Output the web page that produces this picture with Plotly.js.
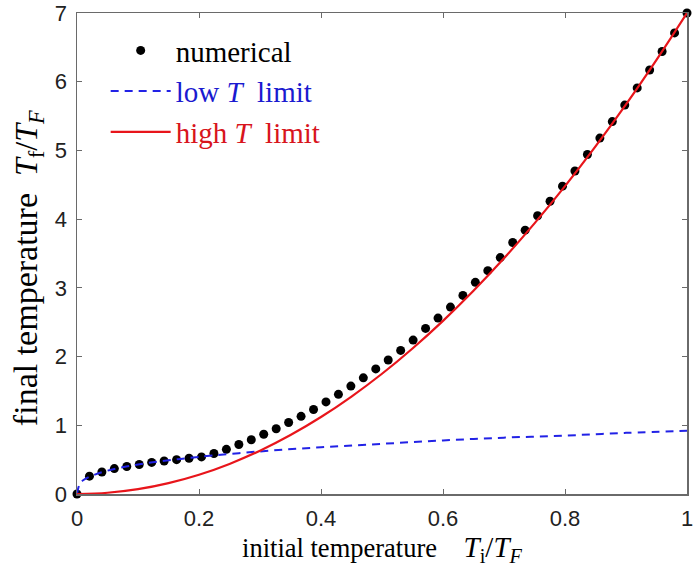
<!DOCTYPE html>
<html>
<head>
<meta charset="utf-8">
<script src="https://cdn.plot.ly/plotly-3.0.1.min.js"></script>
<style>html,body{margin:0;padding:0;background:#fff;}#chart{width:694px;height:567px;}</style>
</head>
<body>
<div id="chart"></div>
<script>
// numerical points: 50 evenly spaced initial temperatures from 0 to 1 (index / 49)
var numIndex = [0,1,2,3,4,5,6,7,8,9,10,11,12,13,14,15,16,17,18,19,20,21,22,23,24,25,26,27,28,29,30,31,32,33,34,35,36,37,38,39,40,41,42,43,44,45,46,47,48,49];
var numY = [0.00,0.26,0.32,0.37,0.40,0.43,0.46,0.48,0.50,0.52,0.54,0.59,0.65,0.72,0.79,0.87,0.95,1.04,1.13,1.23,1.34,1.45,1.57,1.69,1.82,1.95,2.09,2.24,2.41,2.56,2.72,2.89,3.08,3.25,3.44,3.66,3.84,4.05,4.26,4.48,4.70,4.94,5.18,5.42,5.66,5.91,6.17,6.44,6.71,7.00];
var numX = numIndex.map(function(i){ return i / 49; });

// low T limit (blue dashed)
var lowX = [0,0.005,0.01,0.02,0.05,0.1,0.15,0.2,0.3,0.4,0.5,0.6,0.7,0.8,0.9,1.0];
var lowY = [0,0.16,0.20,0.25,0.34,0.43,0.49,0.54,0.62,0.68,0.73,0.78,0.82,0.85,0.89,0.92];

// high T limit (red solid)
var highX = [0,0.05,0.1,0.15,0.2,0.25,0.3,0.35,0.4,0.45,0.5,0.55,0.6,0.65,0.7,0.75,0.8,0.85,0.9,0.95,1.0];
var highY = [0,0.018,0.07,0.158,0.28,0.438,0.63,0.858,1.12,1.418,1.75,2.118,2.52,2.958,3.43,3.938,4.48,5.058,5.67,6.318,7.0];

// tick labels
var xTickVals = [0, 0.2, 0.4, 0.6, 0.8, 1];
var xTickText = ['0', '0.2', '0.4', '0.6', '0.8', '1'];
var yTickVals = [0, 1, 2, 3, 4, 5, 6, 7];
var yTickText = ['0', '1', '2', '3', '4', '5', '6', '7'];

var NB = '\u00A0';
var xTitle = 'initial temperature' + NB+NB+NB+NB +
  '<span style="font-size:29px"><i>T</i><sub>i</sub>/<i>T</i><sub><i>F</i></sub></span>';
var yTitle = 'final temperature' + NB+NB +
  '<span style="font-size:32px"><i>T</i><sub>f</sub>/<i>T</i><sub><i>F</i></sub></span>';

var traces = [
  {x: numX, y: numY, mode: 'markers', name: 'numerical',
   marker: {color: '#000', size: 9}, cliponaxis: false},
  {x: lowX, y: lowY, mode: 'lines', name: '<span style="color:#1a1ad0">low <i>T</i>' + NB + ' limit</span>',
   line: {color: '#2222e6', width: 2, dash: '8px,6px', shape: 'spline'}},
  {x: highX, y: highY, mode: 'lines', name: '<span style="color:#d8141c">high <i>T</i>' + NB + ' limit</span>',
   line: {color: '#e8151b', width: 2.2, shape: 'spline'}}
];

var axisCommon = {
  showline: true, mirror: 'ticks', linecolor: '#6a6a6a', linewidth: 1.5,
  ticks: 'inside', ticklen: 5, tickcolor: '#6a6a6a', tickwidth: 1,
  showgrid: false, zeroline: false, tickmode: 'array', ticklabeloverflow: 'allow',
  ticklabelstandoff: 4,
  tickfont: {family: 'Liberation Sans, Arial, sans-serif', size: 22, color: '#222'}
};

var layout = {
  width: 694, height: 567,
  margin: {l: 77, r: 7, t: 13, b: 73},
  paper_bgcolor: '#fff', plot_bgcolor: '#fff',
  showlegend: true,
  legend: {x: 0.047, y: 0.975, xanchor: 'left', yanchor: 'top', bgcolor: 'rgba(255,255,255,0)',
           font: {family: 'Liberation Serif, Times New Roman, serif', size: 29, color: '#000'},
           traceorder: 'normal', itemwidth: 60},
  xaxis: Object.assign({}, axisCommon, {range: [0, 1], tickvals: xTickVals, ticktext: xTickText,
    title: {text: xTitle, standoff: 4, font: {family: 'Liberation Serif, Times New Roman, serif', size: 26.5, color: '#000'}}}),
  yaxis: Object.assign({}, axisCommon, {range: [0, 7], tickvals: yTickVals, ticktext: yTickText}),
  annotations: [
    {text: yTitle, textangle: -90, xref: 'paper', yref: 'paper', x: -0.08, y: 0.47,
     xanchor: 'center', yanchor: 'middle', showarrow: false,
     font: {family: 'Liberation Serif, Times New Roman, serif', size: 34, color: '#000'}}
  ]
};

Plotly.newPlot('chart', traces, layout, {displayModeBar: false, staticPlot: true});
</script>
</body>
</html>
